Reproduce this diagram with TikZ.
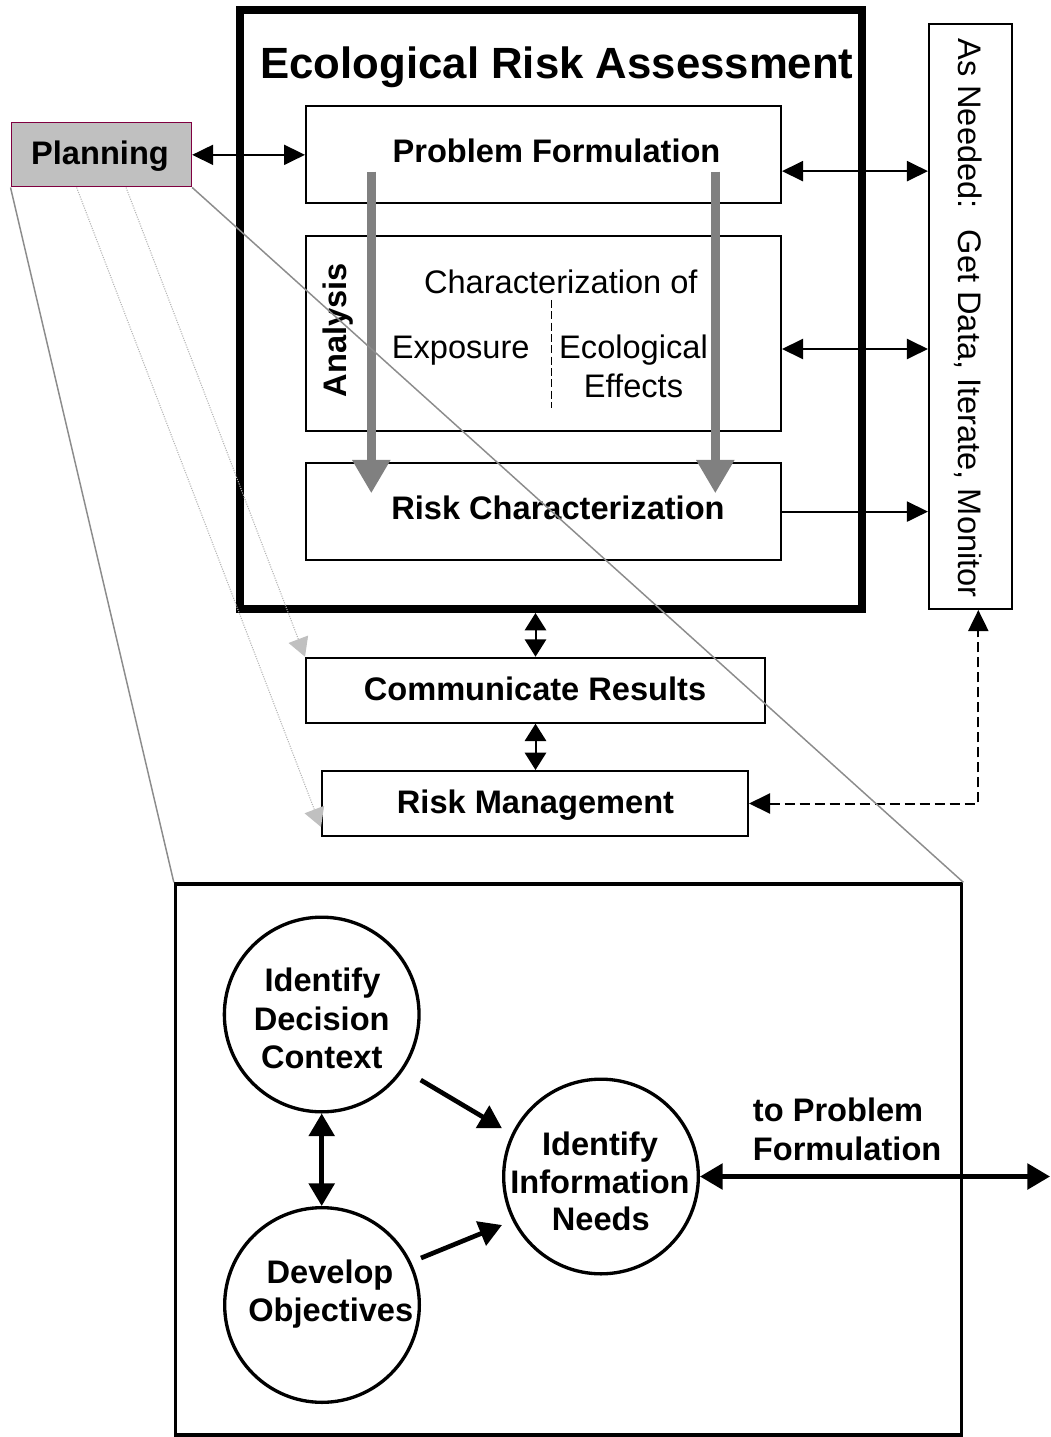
\documentclass[tikz,border=0pt]{standalone}
\usepackage{fontspec}
\setmainfont{Liberation Sans}
\usetikzlibrary{arrows.meta,calc}
\definecolor{planfill}{HTML}{C0C0C0}
\definecolor{planedge}{HTML}{800040}
\definecolor{flowgray}{HTML}{808080}
\definecolor{zoomgray}{HTML}{8C8C8C}
\definecolor{hintgray}{HTML}{B4B4B4}
\definecolor{hinttip}{HTML}{C0C0C0}
\newcommand\bodysize{\fontsize{24.45pt}{28.7pt}\selectfont}
\newcommand\titlesize{\fontsize{32.8pt}{38pt}\selectfont}

\begin{document}
\begin{tikzpicture}[x=0.75pt,y=-0.75pt,
  frame/.style={draw, line width=1.5pt, inner sep=0pt},
  circ/.style={circle, draw, line width=2.5pt, minimum size=146pt, inner sep=0pt},
  txt/.style={inner sep=0pt, anchor=base, font=\bodysize},
  btxt/.style={inner sep=0pt, anchor=base, font=\bodysize\bfseries},
  thinarr/.style={line width=1.5pt, >={Triangle[length=15.75pt,width=15pt]}},
  shortarr/.style={line width=1.5pt, >={Triangle[length=13pt,width=16pt]}},
  boldarr/.style={line width=3.5pt, >={Triangle[length=17pt,width=19pt]}},
  flowarr/.style={line width=7pt, flowgray, >={Triangle[length=25pt,width=27pt]}},
  zoomline/.style={line width=1.1pt, zoomgray},
  hintarr/.style={line width=0.8pt, hintgray, densely dotted,
    >={Triangle[length=14pt,width=15.5pt,color=hinttip]}}]

\useasboundingbox (0,0) rectangle (1050,1437);
\fill[white] (0,0) rectangle (1050,1437);

% --- the assessment frame and its three stages
\node[frame, line width=6pt, minimum width=466.5pt, minimum height=449.25pt] (era) at (551,309.5) {};
\node[inner sep=0pt, anchor=base, font=\titlesize\bfseries] (title) at (557,78.6) {Ecological Risk Assessment};

\node[frame, minimum width=356.25pt, minimum height=72.75pt] (pf) at (543.5,154.6) {};
\node[btxt] (pftext) at (556.5,163) {Problem Formulation};

\node[frame, minimum width=356.25pt, minimum height=146pt] (an) at (543.5,333.4) {};
\node[btxt, rotate=90] (antitle) at (346.7,330) {Analysis};
\node[txt] (charof) at (560.8,293.3) {Characterization of};
\node[txt] (expo) at (460.7,358.3) {Exposure};
\node[txt] (ecol) at (633.5,358.3) {Ecological};
\node[txt] (effe) at (633.5,397.3) {Effects};
\draw[line width=0.9pt, dash pattern=on 6pt off 2.5pt] (551.7,300) -- (551.7,408);

\node[frame, minimum width=356.25pt, minimum height=72.75pt] (rc) at (543.5,511.6) {};
\node[btxt] (rctext) at (558,519) {Risk Characterization};

% --- side column
\node[frame, minimum width=62pt, minimum height=438.75pt] (need) at (970.3,316.5) {};
\node[txt, rotate=-90] (needtext) at (958.3,318) {As Needed:~ Get Data, Iterate, Monitor};

% --- results and management
\node[frame, minimum width=344.25pt, minimum height=48.75pt] (cr) at (535.5,690.2) {};
\node[btxt] (crtext) at (535,700) {Communicate Results};
\node[frame, minimum width=319.5pt, minimum height=48.75pt] (rm) at (535,803.5) {};
\node[btxt] (rmtext) at (535.5,813.3) {Risk Management};

% --- planning detail
\node[frame, line width=2.5pt, minimum width=589.65pt, minimum height=413.25pt] (detail) at (568.6,1159.5) {};
\node[circ] (ctx) at (321.7,1014.5) {};
\node[circ] (obj) at (322,1305) {};
\node[circ] (info) at (601,1176.5) {};
\node[btxt] (ctx1) at (322.5,991.7) {Identify};
\node[btxt] (ctx2) at (321.7,1030) {Decision};
\node[btxt] (ctx3) at (321.7,1068.3) {Context};
\node[btxt] (obj1) at (330,1283.3) {Develop};
\node[btxt] (obj2) at (330.8,1321.7) {Objectives};
\node[btxt] (info1) at (600,1155) {Identify};
\node[btxt] (info2) at (600,1193.3) {Information};
\node[btxt] (info3) at (600.8,1230) {Needs};
\node[btxt, anchor=base west] (totext1) at (752.7,1121) {to Problem};
\node[btxt, anchor=base west] (totext2) at (752.7,1160) {Formulation};

% --- planning box
\node[draw=planedge, fill=planfill, line width=0.75pt, inner sep=0pt,
      minimum width=135.5pt, minimum height=48.2pt] (plan) at (101.35,154.85) {};
\node[btxt] (plantext) at (100,165) {Planning};

% --- connectors
\draw[thinarr,<->] (plan.east) -- (plan.east -| pf.west);
\coordinate (pfr) at ([yshift=-12.4pt]pf.east);
\draw[thinarr,<->] (pfr) -- (pfr -| need.west);
\coordinate (anr) at ([yshift=-11.7pt]an.east);
\draw[thinarr,<->] (anr) -- (anr -| need.west);
\draw[thinarr,->] (rc.east) -- (rc.east -| need.west);
\draw[shortarr,<->] (cr.north) -- (cr.north |- era.south);
\draw[shortarr,<->] (cr.south) -- (cr.south |- rm.north);
\draw[thinarr,<->, dash pattern=on 7.5pt off 3.75pt] (rm.east) -| ([xshift=6pt]need.south);

% --- flow through the stages
\coordinate (flowLa) at (371.3,171.7);
\coordinate (flowLb) at (371.3,493.3);
\coordinate (flowRa) at (715.3,171.7);
\coordinate (flowRb) at (715.3,493.3);
\draw[flowarr,->] (flowLa) -- (flowLb);
\draw[flowarr,->] (flowRa) -- (flowRb);

% --- lines opening the planning detail
\draw[zoomline] (plan.south west) -- (detail.north west);
\draw[zoomline] (plan.south east) -- (detail.north east);
\draw[hintarr,->] ($(plan.south west)!0.364!(plan.south east)$) -- ([yshift=7.5pt]rm.south west);
\draw[hintarr,->] ($(plan.south west)!0.636!(plan.south east)$) -- (cr.north west);

% --- arrows of the planning detail
\coordinate (ya) at (0,1080);
\coordinate (yb) at (0,1128.3);
\coordinate (yc) at (0,1258);
\coordinate (yd) at (0,1225);
\coordinate (toPF) at (1050,1176.5);
\draw[boldarr,<->] (ctx.south) -- (ctx.south |- obj.north);
\draw[boldarr,->] (ctx.east |- ya) -- (info.west |- yb);
\draw[boldarr,->] (obj.east |- yc) -- (info.west |- yd);
\draw[boldarr,<->] (info.east) -- (toPF);
\end{tikzpicture}
\end{document}
